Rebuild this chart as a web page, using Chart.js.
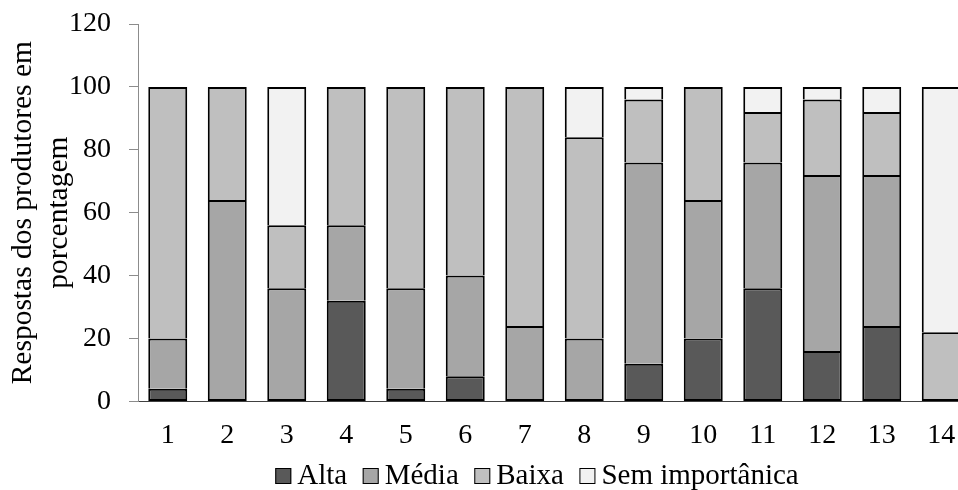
<!DOCTYPE html>
<html lang="pt">
<head>
<meta charset="utf-8">
<title>Respostas dos produtores em porcentagem</title>
<script src="https://cdn.jsdelivr.net/npm/chart.js@4/dist/chart.umd.min.js"></script>
<style>
  html, body { margin: 0; padding: 0; background: #fff; overflow: hidden; }
  #wrap { width: 958px; height: 490px; overflow: hidden; }
  canvas { display: block; }
</style>
</head>
<body>
<div id="wrap"><canvas id="chart" width="980" height="490"></canvas></div>
<script>
// Question numbers along the x axis
const categories = ['1', '2', '3', '4', '5', '6', '7', '8', '9', '10', '11', '12', '13', '14'];

// Share of producers (%) giving each level of importance
const alta  = [4, 0, 0, 32, 4, 8, 0, 0, 12, 20, 36, 16, 24, 0];
const media = [16, 64, 36, 24, 32, 32, 24, 20, 64, 44, 40, 56, 48, 0];
const baixa = [80, 36, 20, 44, 64, 60, 76, 64, 20, 36, 16, 24, 20, 22];
const sem   = [0, 0, 44, 0, 0, 0, 0, 16, 4, 0, 8, 4, 8, 78];

const seriesNames = ['Alta', 'Média', 'Baixa', 'Sem importânica'];
const yTitle = ['Respostas dos produtores em', 'porcentagem'];

const SERIF = '"Liberation Serif", "Times New Roman", Times, serif';
const fills = ['#595959', '#a6a6a6', '#bfbfbf', '#f2f2f2'];
const seriesData = [alta, media, baixa, sem];

// Compact legend row: square swatch, short gap, label; centred on opts.x
const compactLegend = {
  id: 'compactLegend',
  afterDraw(chart, args, opts) {
    const ctx = chart.ctx;
    const items = chart.data.datasets.map(ds => ({ text: ds.label, fill: ds.backgroundColor }));
    ctx.save();
    ctx.font = opts.fontSize + 'px ' + SERIF;
    const widths = items.map(it => ctx.measureText(it.text).width);
    let total = 0;
    widths.forEach((w, i) => {
      total += opts.box + opts.gap + w + (i < widths.length - 1 ? opts.spacing : 0);
    });
    let x = opts.x - total / 2;
    ctx.textBaseline = 'middle';
    ctx.textAlign = 'left';
    items.forEach((it, i) => {
      ctx.fillStyle = it.fill;
      ctx.fillRect(x, opts.y - opts.box / 2, opts.box, opts.box);
      ctx.lineWidth = 1;
      ctx.strokeStyle = '#000';
      ctx.strokeRect(x + 0.5, opts.y - opts.box / 2 + 0.5, opts.box - 1, opts.box - 1);
      ctx.fillStyle = '#000';
      ctx.fillText(it.text, x + opts.box + opts.gap, opts.y);
      x += opts.box + opts.gap + widths[i] + opts.spacing;
    });
    ctx.restore();
  }
};

// Outline of each stacked segment: the join between two segments is drawn
// only once (as the lower segment's top edge), so every line is 2 px wide.
function segmentBorder(ctx) {
  const d = ctx.dataIndex, s = ctx.datasetIndex;
  if (d === undefined) return 2;
  if (!seriesData[s][d]) return 0;
  let below = false;
  for (let k = 0; k < s; k++) if (seriesData[k][d]) below = true;
  return { left: 2, right: 2, top: 2, bottom: below ? 0 : 2 };
}

const datasets = seriesData.map((values, i) => ({
  label: seriesNames[i],
  data: values,
  backgroundColor: fills[i],
  borderColor: '#000000',
  borderWidth: segmentBorder,
  borderSkipped: false,
  inflateAmount: 0,
  categoryPercentage: 1,
  barPercentage: 0.655
}));

new Chart(document.getElementById('chart'), {
  type: 'bar',
  data: { labels: categories, datasets },
  plugins: [compactLegend],
  options: {
    responsive: false,
    animation: false,
    devicePixelRatio: 1,
    layout: { padding: { top: 24, right: 9, left: 0, bottom: 29 } },
    plugins: {
      compactLegend: { x: 537, y: 476, fontSize: 29, box: 16, gap: 6, spacing: 15.5 },
      tooltip: { enabled: false },
      legend: { display: false }
    },
    scales: {
      x: {
        stacked: true,
        grid: { display: false },
        border: { display: true, color: '#404040', width: 1 },
        ticks: {
          color: '#000',
          font: { family: SERIF, size: 28 },
          padding: 9
        }
      },
      y: {
        stacked: true,
        min: 0,
        max: 120,
        afterFit(scale) {
          scale.width = 138;
          scale.paddingTop = 0;
        },
        ticks: {
          stepSize: 20,
          color: '#000',
          font: { family: SERIF, size: 28 },
          padding: 18
        },
        grid: {
          drawOnChartArea: false,
          drawTicks: true,
          tickLength: 9,
          color: '#8c8c8c'
        },
        border: { display: true, color: '#8c8c8c', width: 1 },
        title: {
          display: true,
          text: yTitle,
          color: '#000',
          font: { family: SERIF, size: 29.5, lineHeight: 1.2 },
          padding: { top: 6, bottom: 0 }
        }
      }
    }
  }
});
</script>
</body>
</html>
